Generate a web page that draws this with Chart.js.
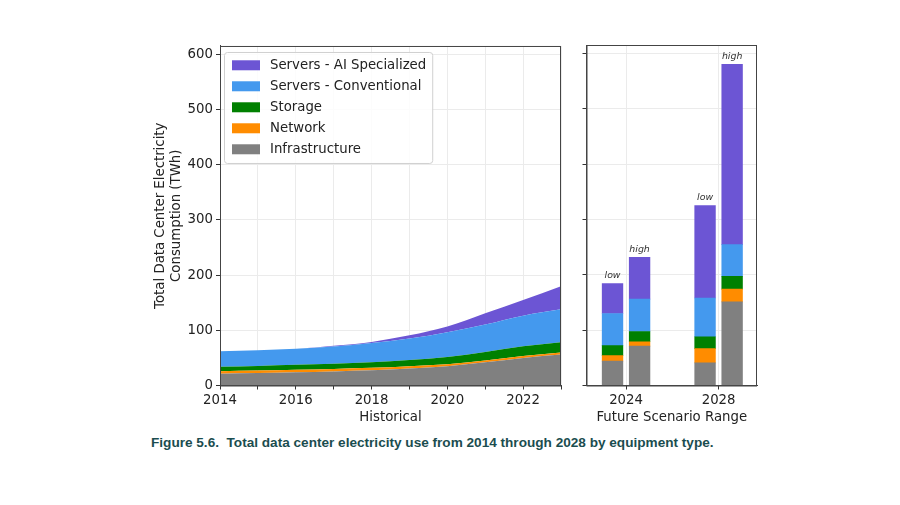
<!DOCTYPE html>
<html>
<head>
<meta charset="utf-8">
<script src="https://cdn.jsdelivr.net/npm/chart.js@4.4.1/dist/chart.umd.min.js"></script>
<style>
  body { margin: 0; background: #fff; width: 900px; height: 505px; position: relative; overflow: hidden; }
  .box { position: absolute; }
  #caption {
    position: absolute; left: 151px; top: 435px; white-space: nowrap;
    font: bold 13.6px "Liberation Sans", Arial, sans-serif; color: #1b4d4f;
  }
</style>
</head>
<body>
<div class="box" id="leftBox" style="left:140px;top:35px;width:430px;height:395px;"><canvas id="historico"></canvas></div>
<div class="box" id="rightBox" style="left:575px;top:35px;width:195px;height:395px;"><canvas id="futuro"></canvas></div>
<div id="caption">Figure 5.6.&nbsp; Total data center electricity use from 2014 through 2028 by equipment type.</div>
<script>
// historical values (TWh)
const years = [2014, 2015, 2016, 2017, 2018, 2019, 2020, 2021, 2022, 2023];
const infrastructure = [21.5, 22.5, 24, 25.5, 27.5, 31, 35, 42, 50, 56];
const network = [4.5, 4.5, 4.5, 4.5, 4.5, 4, 3.5, 3.5, 3.5, 4];
const storage = [8, 8.5, 9, 9.5, 10, 11, 13, 15, 17.5, 18.5];
const serversConventional = [28, 28.5, 29, 31, 35, 39, 45, 50, 55.5, 59.5];
const serversAI = [0, 0, 0, 1.5, 2, 6, 10.5, 20.5, 28.5, 42];

// future scenarios
const scenarioYears = [2024, 2024, 2028, 2028];
const scenarioLabels = ['low', 'high', 'low', 'high'];
const futureInfrastructure = [44, 71, 41, 151];
const futureNetwork = [10, 8, 25.5, 23];
const futureStorage = [18, 18.5, 21.5, 23];
const futureConventional = [58, 58.5, 70, 57.5];
const futureAI = [54, 75.5, 167, 325.5];

const seriesNames = ['Infrastructure', 'Network', 'Storage', 'Servers - Conventional', 'Servers - AI Specialized'];
const seriesColors = ['#808080', '#ff8c00', '#008000', '#4499ee', '#6c55d4'];

const yTicks = [0, 100, 200, 300, 400, 500, 600];
const yMax = 615;

const FONT = 'DejaVu Sans';
Chart.defaults.font.family = FONT;
Chart.defaults.font.size = 13.3;
Chart.defaults.color = '#222';

// plot frame on all four sides, like matplotlib
const marco = {
  id: 'marco',
  afterDraw(chart) {
    const a = chart.chartArea, c = chart.ctx;
    c.save();
    c.strokeStyle = '#444';
    c.lineWidth = 1;
    c.strokeRect(a.left + 0.5, a.top + 0.5, a.right - a.left - 1, a.bottom - a.top);
    c.restore();
  }
};

// legend inside the plot, top left, reversed order
const leyenda = {
  id: 'leyenda',
  afterDraw(chart) {
    const a = chart.chartArea, c = chart.ctx;
    const items = chart.data.datasets.slice().reverse();
    c.save();
    c.font = '13.3px ' + FONT;
    let maxW = 0;
    items.forEach(d => { maxW = Math.max(maxW, c.measureText(d.label).width); });
    const x0 = a.left + 4, y0 = a.top + 6;
    const w = 46 + maxW + 6, h = 111;
    c.fillStyle = 'rgba(255,255,255,0.85)';
    c.strokeStyle = '#d0d0d0';
    c.lineWidth = 1;
    c.beginPath();
    c.roundRect(x0 + 0.5, y0 + 0.5, w, h, 3);
    c.fill();
    c.stroke();
    c.textBaseline = 'middle';
    items.forEach((d, i) => {
      const cy = y0 + 13.3 + i * 21;
      c.fillStyle = d.backgroundColor;
      c.fillRect(x0 + 8, cy - 5, 28, 10);
      c.fillStyle = '#222';
      c.fillText(d.label, x0 + 46, cy + 0.5);
    });
    c.restore();
  }
};

// low / high labels above the top of each stacked bar
const etiquetas = {
  id: 'etiquetas',
  afterDatasetsDraw(chart) {
    const c = chart.ctx;
    const top = chart.getDatasetMeta(chart.data.datasets.length - 1);
    c.save();
    c.font = 'italic 9.4px ' + FONT;
    c.fillStyle = '#333';
    c.textAlign = 'center';
    c.textBaseline = 'bottom';
    top.data.forEach((bar, i) => {
      c.fillText(scenarioLabels[i], bar.x, bar.y - 3.5);
    });
    c.restore();
  }
};

const gridColor = '#ebebeb';

const histSeries = [infrastructure, network, storage, serversConventional, serversAI];
new Chart(document.getElementById('historico'), {
  type: 'line',
  data: {
    datasets: histSeries.map((serie, k) => ({
      label: seriesNames[k],
      data: years.map((yr, i) => ({ x: yr, y: serie[i] })),
      backgroundColor: seriesColors[k],
      borderColor: seriesColors[k],
      borderWidth: 0,
      pointRadius: 0,
      fill: k === 0 ? 'origin' : '-1',
      cubicInterpolationMode: 'monotone'
    }))
  },
  options: {
    responsive: true,
    maintainAspectRatio: false,
    animation: false,
    layout: { padding: { top: 10, right: 9, left: 0, bottom: 0 } },
    plugins: { legend: { display: false }, tooltip: { enabled: false } },
    scales: {
      x: {
        type: 'linear', min: 2014, max: 2023,
        grid: { color: gridColor, tickColor: '#333', tickLength: 4 },
        border: { color: '#444' },
        ticks: {
          stepSize: 1, autoSkip: false, maxRotation: 0,
          callback: v => (v % 2 === 0 ? String(v) : '')
        },
        title: { display: true, text: 'Historical', padding: { top: 2, bottom: 4 } },
        afterFit: s => { s.height = 44.5; }
      },
      y: {
        stacked: true, min: 0, max: yMax,
        grid: { color: gridColor, tickColor: '#333', tickLength: 4 },
        border: { color: '#444' },
        afterBuildTicks: s => { s.ticks = yTicks.map(v => ({ value: v })); },
        ticks: { padding: 3 },
        title: {
          display: true,
          text: ['Total Data Center Electricity', 'Consumption (TWh)'],
          padding: { top: 12.6, bottom: 0 }
        },
        afterFit: s => { s.width = 80; }
      }
    }
  },
  plugins: [marco, leyenda]
});

const futSeries = [futureInfrastructure, futureNetwork, futureStorage, futureConventional, futureAI];
const barOffset = 0.585; // years either side of the scenario year
const futureTicks = [...new Set(scenarioYears)];
new Chart(document.getElementById('futuro'), {
  type: 'bar',
  data: {
    datasets: futSeries.map((serie, k) => ({
      label: seriesNames[k],
      data: scenarioYears.map((yr, i) => ({
        x: yr + (scenarioLabels[i] === 'low' ? -barOffset : barOffset),
        y: serie[i]
      })),
      backgroundColor: seriesColors[k],
      borderWidth: 0,
      barThickness: 20.7
    }))
  },
  options: {
    responsive: true,
    maintainAspectRatio: false,
    animation: false,
    layout: { padding: { top: 10, right: 13, left: 0, bottom: 0 } },
    plugins: { legend: { display: false }, tooltip: { enabled: false } },
    scales: {
      x: {
        type: 'linear', min: 2022.29, max: 2029.66, stacked: true, offset: false,
        grid: { color: gridColor, tickColor: '#333', tickLength: 4, offset: false },
        border: { color: '#444' },
        afterBuildTicks: s => { s.ticks = futureTicks.map(v => ({ value: v })); },
        ticks: { autoSkip: false, maxRotation: 0, callback: v => String(v) },
        title: { display: true, text: 'Future Scenario Range', padding: { top: 2, bottom: 4 } },
        afterFit: s => { s.height = 44.5; }
      },
      y: {
        stacked: true, min: 0, max: yMax,
        grid: { color: gridColor, tickColor: '#333', tickLength: 4 },
        border: { color: '#444' },
        afterBuildTicks: s => { s.ticks = yTicks.map(v => ({ value: v })); },
        ticks: { display: false },
        afterFit: s => { s.width = 11.5; }
      }
    }
  },
  plugins: [marco, etiquetas]
});
</script>
</body>
</html>
